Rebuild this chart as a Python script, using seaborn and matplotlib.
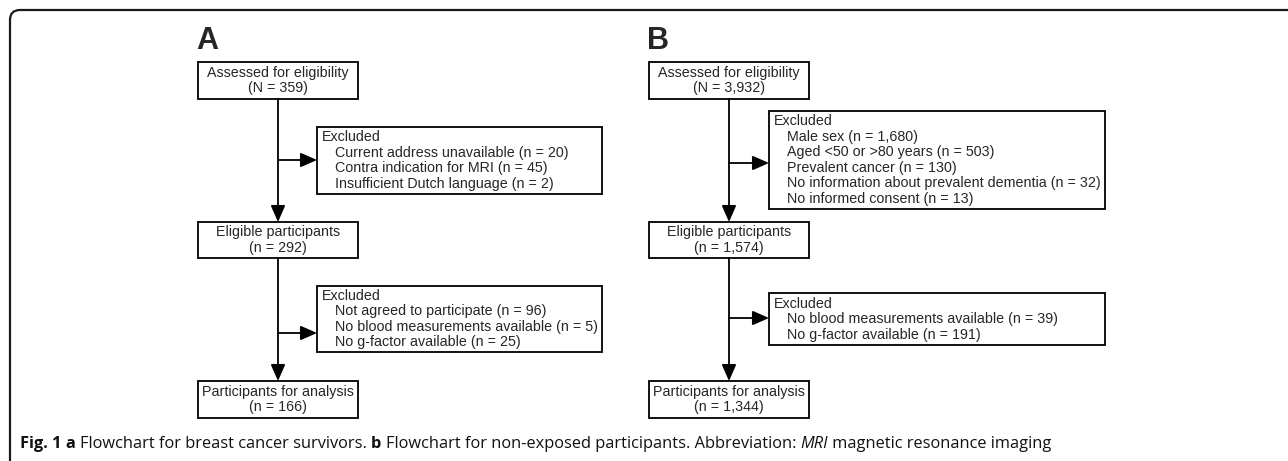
import matplotlib
matplotlib.use("Agg")
import matplotlib.pyplot as plt
import seaborn as sns
from matplotlib.patches import Rectangle, FancyArrowPatch
from matplotlib.path import Path
from matplotlib.patches import PathPatch

sns.set_style('white')
plt.rcParams['font.family'] = ['Liberation Sans', 'DejaVu Sans']

# Flow data
panel_labels = ['A', 'B']
assessed = ['359', '3,932']
eligible = ['292', '1,574']
analysed = ['166', '1,344']
excl1_reasons = [
    ['Current address unavailable', 'Contra indication for MRI', 'Insufficient Dutch language'],
    ['Male sex', 'Aged <50 or >80 years', 'Prevalent cancer',
     'No information about prevalent dementia', 'No informed consent'],
]
excl1_counts = [['20', '45', '2'], ['1,680', '503', '130', '32', '13']]
excl2_reasons = [
    ['Not agreed to participate', 'No blood measurements available', 'No g-factor available'],
    ['No blood measurements available', 'No g-factor available'],
]
excl2_counts = [['96', '5', '25'], ['39', '191']]

# Layout (pixels)
W, H = 1288, 461
box_left = [198, 649]
box_w = 160
excl_left = [317, 769]
excl_right = [602, 1105]
main_rows = [(62, 99), (222, 258), (381, 418)]
excl1_rows = [(127, 194), (111, 209)]
excl2_rows = [(286, 352), (293, 345)]
excl1_arrow_y = [160, 163]
excl2_arrow_y = [333, 318]
line_h = 15.5
fs = 10.3
lw = 1.3

fig = plt.figure(figsize=(W / 100, H / 100), dpi=100)
ax = fig.add_axes([0, 0, 1, 1])
ax.set_xlim(0, W)
ax.set_ylim(H, 0)
ax.axis('off')

# outer frame with rounded top-left corner
r = 10
verts = [(10, H + 5), (10, 10 + r), (10, 10), (10 + r, 10), (W + 5, 10)]
codes = [Path.MOVETO, Path.LINETO, Path.CURVE3, Path.CURVE3, Path.LINETO]
ax.add_patch(PathPatch(Path(verts, codes), fill=False, lw=1.6, color='#1a1a1a'))


def main_box(x0, y0, y1, title, value, sym='n'):
    ax.add_patch(Rectangle((x0, y0), box_w, y1 - y0, fill=False, lw=lw, ec='black'))
    cx = x0 + box_w / 2
    cy = (y0 + y1) / 2
    ax.text(cx, cy - line_h / 2, title, ha='center', va='center', fontsize=fs)
    ax.text(cx, cy + line_h / 2, f'({sym} = {value})', ha='center', va='center', fontsize=fs)


def excl_box(x0, x1, y0, y1, reasons, counts):
    ax.add_patch(Rectangle((x0, y0), x1 - x0, y1 - y0, fill=False, lw=lw, ec='black'))
    n = len(reasons) + 1
    top = (y0 + y1) / 2 - (n - 1) * line_h / 2
    ax.text(x0 + 5, top, 'Excluded', ha='left', va='center', fontsize=fs)
    for i, (rs, c) in enumerate(zip(reasons, counts)):
        ax.text(x0 + 18, top + (i + 1) * line_h, f'{rs} (n = {c})',
                ha='left', va='center', fontsize=fs)


def arrow(p0, p1):
    ax.add_patch(FancyArrowPatch(p0, p1, arrowstyle='-|>,head_length=0.5,head_width=0.22',
                                 mutation_scale=20, lw=lw, color='black',
                                 shrinkA=0, shrinkB=0))


for k in range(2):
    x0 = box_left[k]
    cx = x0 + box_w / 2
    ax.text(x0 - 2, 41, panel_labels[k], fontsize=22, fontweight='bold',
            ha='left', va='center', family='Liberation Sans')
    main_box(x0, *main_rows[0], 'Assessed for eligibility', assessed[k], 'N')
    main_box(x0, *main_rows[1], 'Eligible participants', eligible[k])
    main_box(x0, *main_rows[2], 'Participants for analysis', analysed[k])
    excl_box(excl_left[k], excl_right[k], *excl1_rows[k], excl1_reasons[k], excl1_counts[k])
    excl_box(excl_left[k], excl_right[k], *excl2_rows[k], excl2_reasons[k], excl2_counts[k])
    # vertical arrows
    arrow((cx, main_rows[0][1]), (cx, main_rows[1][0]))
    arrow((cx, main_rows[1][1]), (cx, main_rows[2][0]))
    # side arrows
    arrow((cx, excl1_arrow_y[k]), (excl_left[k], excl1_arrow_y[k]))
    arrow((cx, excl2_arrow_y[k]), (excl_left[k], excl2_arrow_y[k]))

# caption
cap_y = 444
cap_font = ['Open Sans', 'DejaVu Sans']
parts = [('Fig. 1 ', 'bold', 'normal'), ('a ', 'bold', 'normal'),
         ('Flowchart for breast cancer survivors. ', 'normal', 'normal'),
         ('b ', 'bold', 'normal'),
         ('Flowchart for non-exposed participants. Abbreviation: ', 'normal', 'normal'),
         ('MRI', 'normal', 'italic'), (' magnetic resonance imaging', 'normal', 'normal')]
fig.canvas.draw()
renderer = fig.canvas.get_renderer()
x = 20
for txt, wgt, sty in parts:
    t = ax.text(x, cap_y, txt, fontsize=11.8, fontweight=wgt, fontstyle=sty,
                family=cap_font, ha='left', va='center', color='#111111')
    bb = t.get_window_extent(renderer=renderer)
    x += bb.width

fig.savefig('out.png', dpi=100)
